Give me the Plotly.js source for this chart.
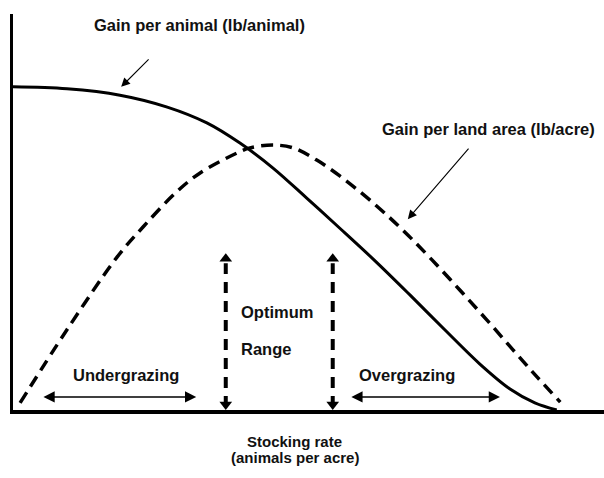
<!DOCTYPE html>
<html>
<head>
<meta charset="utf-8">
<script src="https://cdn.plot.ly/plotly-3.0.1.min.js"></script>
<style>html,body{margin:0;padding:0;background:#fff;}#chart{width:604px;height:478px;}</style>
</head>
<body>
<div id="chart"></div>
<script>
// Stocking rate (x, relative units 0-100) and gains (y, relative units 0-100)
const animalX = [0, 9.14, 18.1, 26.1, 32.8, 38.4, 44.0, 49.7, 55.3, 61.3, 67.2, 73.1, 79.0, 84.1, 88.3, 92.0];
const animalY = [81.6, 81.1, 79.5, 76.5, 72.5, 67.4, 61.1, 53.5, 45.9, 37.6, 29.0, 20.2, 11.6, 5.3, 1.8, 0];

const landX = [1.2, 9.1, 17.6, 22.0, 27.7, 31.6, 37.9, 40.1, 44.0, 47.4, 51.4, 55.3, 59.2, 62.9, 66.8, 70.9, 75.6, 80.2, 84.6, 88.7, 92.6];
const landY = [1.8, 20.2, 38.6, 46.2, 55.1, 59.8, 64.9, 66.2, 66.9, 66.2, 63.1, 59.1, 54.5, 49.7, 44.2, 37.9, 30.3, 22.7, 15.2, 8.3, 2.0];

// Optimum range boundaries
const optimumX = [36.0, 54.1];
const optimumTop = 39.6;

// Grazing ranges [start, end]
const underRange = [4.9, 31.0];
const overRange = [57.0, 82.4];
const rangeArrowY = 3.3;

const labels = {
  animal: 'Gain per animal (lb/animal)',
  land: 'Gain per land area (lb/acre)',
  optimum: 'Optimum',
  range: 'Range',
  under: 'Undergrazing',
  over: 'Overgrazing',
  xTitle1: 'Stocking rate',
  xTitle2: '(animals per acre)'
};

const W = 604, H = 478;
const margin = {l: 13, r: 0, t: 14, b: 68};
const plotH = H - margin.t - margin.b;
const pxY = 100 / plotH; // data units per pixel in y

const traces = [];
traces.push({x: animalX, y: animalY, mode: 'lines', line: {color: '#000', width: 3, shape: 'spline', smoothing: 1}, hoverinfo: 'skip'});
traces.push({x: landX, y: landY, mode: 'lines', line: {color: '#000', width: 3.5, dash: '12px,7px', shape: 'spline', smoothing: 1}, hoverinfo: 'skip'});

const mSize = 11;
optimumX.forEach(function (xv) {
  traces.push({x: [xv, xv], y: [3 * pxY, optimumTop - 10 * pxY], mode: 'lines',
    line: {color: '#000', width: 4, dash: '11px,8px'}, hoverinfo: 'skip'});
  traces.push({x: [xv], y: [optimumTop - (mSize / 2) * pxY], mode: 'markers',
    marker: {symbol: 'triangle-up', size: mSize, color: '#000'}, hoverinfo: 'skip'});
  traces.push({x: [xv], y: [(mSize / 2) * pxY], mode: 'markers',
    marker: {symbol: 'triangle-down', size: mSize, color: '#000'}, hoverinfo: 'skip'});
});

const font = {family: 'Liberation Sans, Arial, sans-serif', size: 16.5, color: '#111'};
const titleFont = {family: 'Liberation Sans, Arial, sans-serif', size: 15, color: '#111'};

const annotations = [
  {x: 31.6, y: 97.2, xref: 'x', yref: 'y', text: '<b>' + labels.animal + '</b>', showarrow: false, font: font},
  {x: 18.3, y: 81.6, ax: 23.2, ay: 88.9, xref: 'x', yref: 'y', axref: 'x', ayref: 'y', text: '', showarrow: true,
    arrowhead: 2, arrowsize: 1.6, arrowwidth: 1.1, arrowcolor: '#000', standoff: 0},
  {x: 80.4, y: 71.0, xref: 'x', yref: 'y', text: '<b>' + labels.land + '</b>', showarrow: false, font: font},
  {x: 66.8, y: 48.2, ax: 77.3, ay: 66.4, xref: 'x', yref: 'y', axref: 'x', ayref: 'y', text: '', showarrow: true,
    arrowhead: 2, arrowsize: 1.6, arrowwidth: 1.1, arrowcolor: '#000', standoff: 0},
  {x: 38.2, y: 24.7, xref: 'x', yref: 'y', text: '<b>' + labels.optimum + '</b>', showarrow: false, xanchor: 'left', font: font},
  {x: 38.2, y: 15.4, xref: 'x', yref: 'y', text: '<b>' + labels.range + '</b>', showarrow: false, xanchor: 'left', font: font},
  {x: 19.1, y: 8.8, xref: 'x', yref: 'y', text: '<b>' + labels.under + '</b>', showarrow: false, font: font},
  {x: 66.7, y: 8.8, xref: 'x', yref: 'y', text: '<b>' + labels.over + '</b>', showarrow: false, font: font},
  {x: underRange[1], y: rangeArrowY, ax: underRange[0], ay: rangeArrowY, xref: 'x', yref: 'y', axref: 'x', ayref: 'y',
    text: '', showarrow: true, arrowside: 'end+start', arrowhead: 2, arrowsize: 1.4, arrowwidth: 1.6, arrowcolor: '#000', standoff: 0, startstandoff: 0},
  {x: overRange[1], y: rangeArrowY, ax: overRange[0], ay: rangeArrowY, xref: 'x', yref: 'y', axref: 'x', ayref: 'y',
    text: '', showarrow: true, arrowside: 'end+start', arrowhead: 2, arrowsize: 1.4, arrowwidth: 1.6, arrowcolor: '#000', standoff: 0, startstandoff: 0},
  {x: 47.7, y: -0.106, xref: 'x', yref: 'paper', text: '<b>' + labels.xTitle1 + '</b>', showarrow: false, font: titleFont},
  {x: 47.7, y: -0.146, xref: 'x', yref: 'paper', text: '<b>' + labels.xTitle2 + '</b>', showarrow: false, font: titleFont}
];

const layout = {
  width: W, height: H,
  margin: margin,
  paper_bgcolor: '#fff', plot_bgcolor: '#fff',
  showlegend: false,
  xaxis: {range: [0, 100], showline: true, linewidth: 3.5, linecolor: '#000', showgrid: false, zeroline: false,
    showticklabels: false, ticks: '', fixedrange: true},
  yaxis: {range: [0, 100], showline: true, linewidth: 3.5, linecolor: '#000', showgrid: false, zeroline: false,
    showticklabels: false, ticks: '', fixedrange: true},
  annotations: annotations
};

Plotly.newPlot('chart', traces, layout, {displayModeBar: false, staticPlot: true});
</script>
</body>
</html>
